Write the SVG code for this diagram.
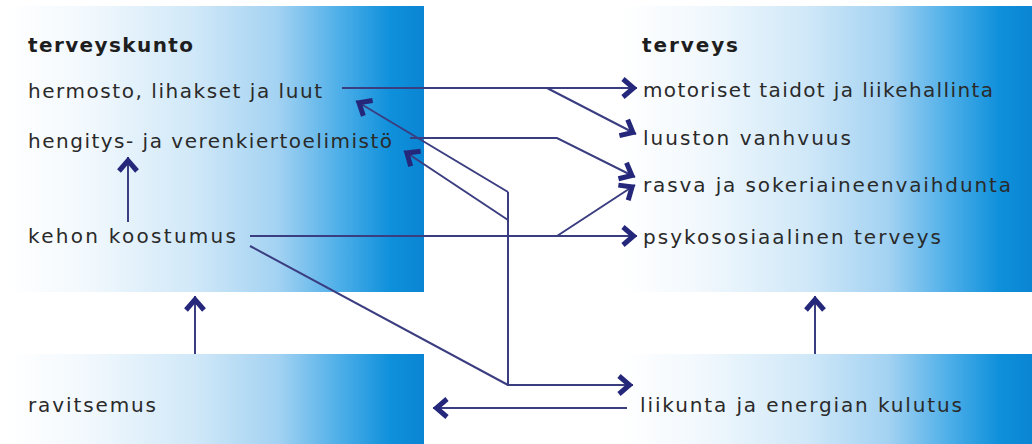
<svg xmlns="http://www.w3.org/2000/svg" width="1032" height="444" viewBox="0 0 1032 444">
  <defs>
    <linearGradient id="boxGrad" x1="0" y1="0" x2="1" y2="0">
      <stop offset="0" stop-color="#ffffff"/>
      <stop offset="0.2" stop-color="#f1f8fd"/>
      <stop offset="0.45" stop-color="#d0e8f8"/>
      <stop offset="0.65" stop-color="#a3d2f2"/>
      <stop offset="0.8" stop-color="#4caee8"/>
      <stop offset="0.92" stop-color="#0f90db"/>
      <stop offset="1" stop-color="#0a85d3"/>
    </linearGradient>
    <marker id="ah" markerUnits="userSpaceOnUse" markerWidth="20" markerHeight="20" viewBox="-16 -10 20 20" refX="0" refY="0" orient="auto" overflow="visible">
      <path d="M-14,-9 L-3.5,0 L-14,9" fill="none" stroke="#25287a" stroke-width="5" stroke-linejoin="miter"/>
    </marker>
    <style>
      .box { fill: url(#boxGrad); }
      .t { font-family: "DejaVu Sans", "Liberation Sans", sans-serif; font-size: 20px; fill: #2a2a2a; }
      .h { font-family: "DejaVu Sans", "Liberation Sans", sans-serif; font-size: 20px; font-weight: bold; fill: #1e1e1e; }
      .c { fill: none; stroke: #3a3d80; stroke-width: 2; }
      .a { marker-end: url(#ah); }
    </style>
  </defs>

  <g id="terveyskunto">
    <rect class="box" x="7" y="6" width="417" height="286"/>
    <text class="h" x="28" y="52" textLength="165" lengthAdjust="spacing">terveyskunto</text>
    <g id="hermosto"><text class="t" x="28" y="98" textLength="294" lengthAdjust="spacing">hermosto, lihakset ja luut</text></g>
    <g id="hengitys"><text class="t" x="28" y="148" textLength="364" lengthAdjust="spacing">hengitys- ja verenkiertoelimistö</text></g>
    <g id="kehon"><text class="t" x="28" y="243" textLength="208" lengthAdjust="spacing">kehon koostumus</text></g>
  </g>

  <g id="terveys">
    <rect class="box" x="622" y="6" width="410" height="286"/>
    <text class="h" x="642" y="52" textLength="96" lengthAdjust="spacing">terveys</text>
    <g id="motoriset"><text class="t" x="643" y="97" textLength="350" lengthAdjust="spacing">motoriset taidot ja liikehallinta</text></g>
    <g id="luuston"><text class="t" x="643" y="145" textLength="208" lengthAdjust="spacing">luuston vanhvuus</text></g>
    <g id="rasva"><text class="t" x="643" y="192" textLength="368" lengthAdjust="spacing">rasva ja sokeriaineenvaihdunta</text></g>
    <g id="psyko"><text class="t" x="643" y="244" textLength="298" lengthAdjust="spacing">psykososiaalinen terveys</text></g>
  </g>

  <g id="ravitsemus">
    <rect class="box" x="8" y="354" width="416" height="90"/>
    <text class="t" x="28" y="412" textLength="128" lengthAdjust="spacing">ravitsemus</text>
  </g>

  <g id="liikunta">
    <rect class="box" x="622" y="354" width="410" height="90"/>
    <text class="t" x="640" y="412" textLength="322" lengthAdjust="spacing">liikunta ja energian kulutus</text>
  </g>

  <g id="connectors">
    <line class="c a" x1="342" y1="88" x2="637" y2="88"/>
    <line class="c a" x1="547" y1="88" x2="636" y2="134"/>
    <polyline class="c a" points="410,138 557,138 635,177"/>
    <line class="c a" x1="250" y1="236" x2="637" y2="236"/>
    <line class="c a" x1="557" y1="236" x2="635" y2="185"/>
    <line class="c a" x1="128" y1="222" x2="128" y2="157"/>
    <polyline class="c" points="250,246 508,385"/>
    <polyline class="c a" points="508,192 508,385 633,385"/>
    <line class="c a" x1="508" y1="192" x2="356" y2="101"/>
    <line class="c a" x1="508" y1="220" x2="404" y2="151"/>
    <line class="c a" x1="627" y1="408" x2="433" y2="408"/>
    <line class="c a" x1="195" y1="354" x2="195" y2="296"/>
    <line class="c a" x1="815" y1="354" x2="815" y2="296"/>
  </g>
</svg>
